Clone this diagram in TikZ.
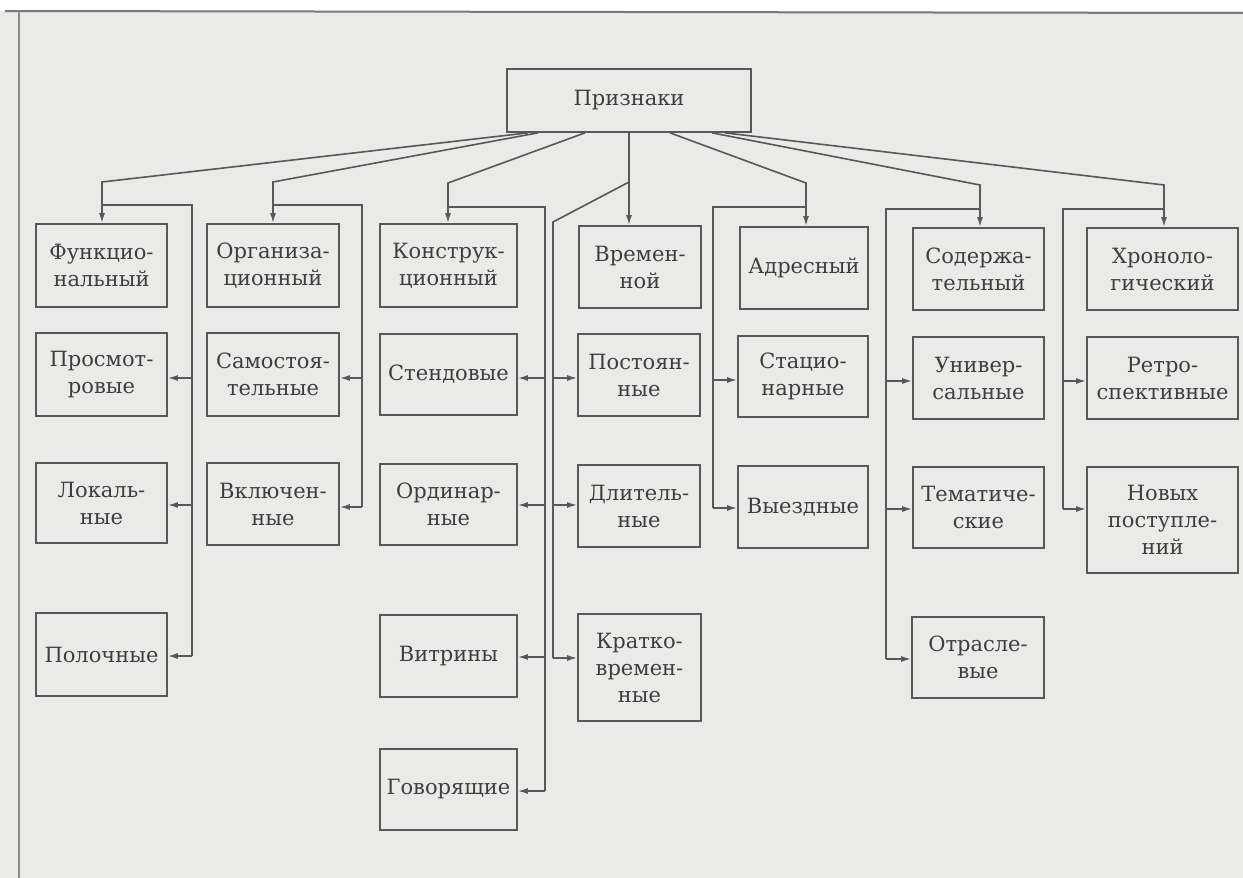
\documentclass[tikz,border=0pt]{standalone}
\usepackage{fontspec}
\setmainfont{DejaVu Serif}
\usetikzlibrary{arrows.meta}
\definecolor{bg}{RGB}{234,234,232}
\definecolor{ink}{RGB}{62,62,62}
\definecolor{edge}{RGB}{88,88,88}
\begin{document}
\begin{tikzpicture}[x=1pt,y=-1pt,
  bx/.style={draw=edge, line width=1.7pt, text=ink, align=center, inner sep=1pt,
             font=\fontsize{21}{27}\selectfont},
  ln/.style={draw=edge, line width=1.6pt},
  arr/.style={ln, -{Latex[length=10pt,width=6pt]}}]
\useasboundingbox (0,0) rectangle (1243,878);
\fill[white] (0,0) rectangle (1243,878);
\fill[bg] (0,11) rectangle (1243,878);
\draw[edge!80, line width=2pt] (5,11) -- (1243,13);
\draw[edge!70, line width=1.5pt] (19,11) -- (19,878);

% nodes
\node[bx, minimum width=244pt, minimum height=63pt] (root) at (629,100.5) {Признаки};

\node[bx, minimum width=131pt, minimum height=83pt] (F1) at (101.5,265.5) {Функцио-\\нальный};
\node[bx, minimum width=132pt, minimum height=83pt] (O1) at (273,265.5) {Организа-\\ционный};
\node[bx, minimum width=137pt, minimum height=83pt] (K1) at (448.5,265.5) {Конструк-\\ционный};
\node[bx, minimum width=122pt, minimum height=82pt] (V1) at (640,267) {Времен-\\ной};
\node[bx, minimum width=128pt, minimum height=82pt] (A1) at (804,268) {Адресный};
\node[bx, minimum width=131pt, minimum height=82pt] (S1) at (978.5,269) {Содержа-\\тельный};
\node[bx, minimum width=151pt, minimum height=82pt] (H1) at (1162.5,269) {Хроноло-\\гический};

\node[bx, minimum width=131pt, minimum height=83pt] (F2) at (101.5,374.5) {Просмот-\\ровые};
\node[bx, minimum width=132pt, minimum height=83pt] (O2) at (273,374.5) {Самостоя-\\тельные};
\node[bx, minimum width=137pt, minimum height=81pt] (K2) at (448.5,374.5) {Стендовые};
\node[bx, minimum width=122pt, minimum height=82pt] (V2) at (639,375) {Постоян-\\ные};
\node[bx, minimum width=130pt, minimum height=81pt] (A2) at (803,376.5) {Стацио-\\нарные};
\node[bx, minimum width=131pt, minimum height=82pt] (S2) at (978.5,378) {Универ-\\сальные};
\node[bx, minimum width=151pt, minimum height=82pt] (H2) at (1162.5,378) {Ретро-\\спективные};

\node[bx, minimum width=131pt, minimum height=80pt] (F3) at (101.5,503) {Локаль-\\ные};
\node[bx, minimum width=132pt, minimum height=82pt] (O3) at (273,504) {Включен-\\ные};
\node[bx, minimum width=137pt, minimum height=81pt] (K3) at (448.5,504.5) {Ординар-\\ные};
\node[bx, minimum width=122pt, minimum height=82pt] (V3) at (639,506) {Длитель-\\ные};
\node[bx, minimum width=130pt, minimum height=82pt] (A3) at (803,507) {Выездные};
\node[bx, minimum width=131pt, minimum height=81pt] (S3) at (978.5,507.5) {Тематиче-\\ские};
\node[bx, minimum width=151pt, minimum height=106pt] (H3) at (1162.5,520) {Новых\\поступле-\\ний};

\node[bx, minimum width=131pt, minimum height=83pt] (F4) at (101.5,654.5) {Полочные};
\node[bx, minimum width=137pt, minimum height=82pt] (K4) at (448.5,656) {Витрины};
\node[bx, minimum width=123pt, minimum height=107pt] (V4) at (639.5,667.5) {Кратко-\\времен-\\ные};
\node[bx, minimum width=132pt, minimum height=81pt] (S4) at (978,657.5) {Отрасле-\\вые};

\node[bx, minimum width=137pt, minimum height=81pt] (K5) at (448.5,789.5) {Говорящие};

% top-level connectors
\coordinate (fk) at (102,182);
\coordinate (ok) at (273,182);
\coordinate (kk) at (448,183);
\coordinate (ak) at (806,183);
\coordinate (sk) at (980,185);
\coordinate (hk) at (1164,185);
\draw[arr] ([xshift=-101pt]root.south) -- (fk) -- (fk |- F1.north);
\draw[arr] ([xshift=-91pt]root.south) -- (ok) -- (ok |- O1.north);
\draw[arr] ([xshift=-44pt]root.south) -- (kk) -- (kk |- K1.north);
\draw[arr] (root.south) -- (root.south |- V1.north);
\draw[arr] ([xshift=41pt]root.south) -- (ak) -- (ak |- A1.north);
\draw[arr] ([xshift=83pt]root.south) -- (sk) -- (sk |- S1.north);
\draw[arr] ([xshift=96pt]root.south) -- (hk) -- (hk |- H1.north);

% functional group
\coordinate (fa) at (102,205);
\coordinate (fb1) at (192,205);
\coordinate (fb2) at (192,378);
\coordinate (fb3) at (192,505);
\coordinate (fb4) at (192,656);
\draw[ln] (fa) -- (fb1) -- (fb4);
\draw[arr] (fb2) -- (fb2 -| F2.east);
\draw[arr] (fb3) -- (fb3 -| F3.east);
\draw[arr] (fb4) -- (fb4 -| F4.east);

% organisational group
\coordinate (oa) at (273,205);
\coordinate (ob1) at (362,205);
\coordinate (ob2) at (362,378);
\coordinate (ob3) at (362,507);
\draw[ln] (oa) -- (ob1) -- (ob3);
\draw[arr] (ob2) -- (ob2 -| O2.east);
\draw[arr] (ob3) -- (ob3 -| O3.east);

% constructional group
\coordinate (ka) at (448,207);
\coordinate (kb1) at (545,207);
\coordinate (kb2) at (545,378);
\coordinate (kb3) at (545,505);
\coordinate (kb4) at (545,657);
\coordinate (kb5) at (545,791);
\draw[ln] (ka) -- (kb1) -- (kb5);
\draw[arr] (kb2) -- (kb2 -| K2.east);
\draw[arr] (kb3) -- (kb3 -| K3.east);
\draw[arr] (kb4) -- (kb4 -| K4.east);
\draw[arr] (kb5) -- (kb5 -| K5.east);

% time group
\coordinate (va) at (629,182);
\coordinate (vb1) at (553,222);
\coordinate (vb2) at (553,378);
\coordinate (vb3) at (553,505);
\coordinate (vb4) at (553,658);
\draw[ln] (va) -- (vb1) -- (vb4);
\draw[arr] (vb2) -- (vb2 -| V2.west);
\draw[arr] (vb3) -- (vb3 -| V3.west);
\draw[arr] (vb4) -- (vb4 -| V4.west);

% address group
\coordinate (aa) at (806,207);
\coordinate (ab1) at (713,207);
\coordinate (ab2) at (713,380);
\coordinate (ab3) at (713,508);
\draw[ln] (aa) -- (ab1) -- (ab3);
\draw[arr] (ab2) -- (ab2 -| A2.west);
\draw[arr] (ab3) -- (ab3 -| A3.west);

% content group
\coordinate (sa) at (980,209);
\coordinate (sb1) at (886,209);
\coordinate (sb2) at (886,381);
\coordinate (sb3) at (886,509);
\coordinate (sb4) at (886,659);
\draw[ln] (sa) -- (sb1) -- (sb4);
\draw[arr] (sb2) -- (sb2 -| S2.west);
\draw[arr] (sb3) -- (sb3 -| S3.west);
\draw[arr] (sb4) -- (sb4 -| S4.west);

% chronological group
\coordinate (ha) at (1164,209);
\coordinate (hb1) at (1063,209);
\coordinate (hb2) at (1063,381);
\coordinate (hb3) at (1063,509);
\draw[ln] (ha) -- (hb1) -- (hb3);
\draw[arr] (hb2) -- (hb2 -| H2.west);
\draw[arr] (hb3) -- (hb3 -| H3.west);
\end{tikzpicture}
\end{document}
